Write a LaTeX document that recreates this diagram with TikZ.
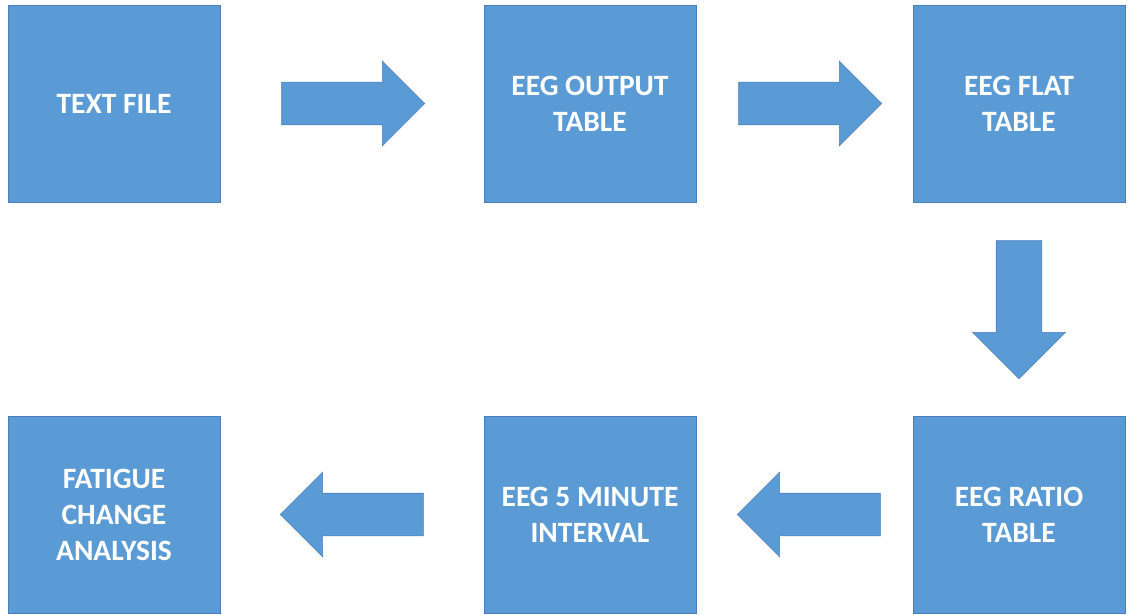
\documentclass[tikz,border=0pt]{standalone}
\usepackage{fontspec}
\setmainfont{Carlito}
\usepackage{tikz}
\usetikzlibrary{shapes.arrows}

\definecolor{boxblue}{HTML}{5B9BD5}
\definecolor{edgeblue}{HTML}{4A7EBB}

\tikzset{
    stage/.style={rectangle, fill=boxblue, draw=edgeblue, line width=0.8pt,
        minimum width=212pt, minimum height=197pt, inner sep=0pt,
        text=white, align=center, font=\fontsize{29.5}{36}\selectfont\bfseries},
    blockarrow/.style={single arrow, fill=boxblue, draw=edgeblue, line width=0.6pt,
        minimum height=143pt, inner xsep=0pt, inner ysep=21pt, anchor=tail,
        single arrow head extend=21pt, single arrow tip angle=90}
}

\begin{document}
\begin{tikzpicture}[x=1pt, y=-1pt]
    \useasboundingbox (0,0) rectangle (1128,615);

    \node [stage] (text_file) at (114, 103.5) {TEXT FILE};
    \node [stage] (eeg_output) at (590, 103.5) {EEG OUTPUT\\TABLE};
    \node [stage] (eeg_flat) at (1019, 103.5) {EEG FLAT\\TABLE};

    \node [stage] (eeg_ratio) at (1019, 514.5) {EEG RATIO\\TABLE};
    \node [stage] (eeg_interval) at (590, 514.5) {EEG 5 MINUTE\\INTERVAL};
    \node [stage] (fatigue) at (114, 514.5) {FATIGUE\\CHANGE\\ANALYSIS};

    \node [blockarrow] (arr_1) at ([shift={(61, 0)}]text_file.east) {};
    \node [blockarrow] (arr_2) at ([shift={(42, 0)}]eeg_output.east) {};
    \node [blockarrow, shape border rotate=270, minimum height=138pt, inner xsep=22.5pt, inner ysep=0pt,
        single arrow head extend=23.5pt] (arr_3) at ([shift={(0, 38)}]eeg_flat.south) {};
    \node [blockarrow, shape border rotate=180] (arr_4) at ([shift={(-32, 0)}]eeg_ratio.west) {};
    \node [blockarrow, shape border rotate=180] (arr_5) at ([shift={(-60, 0)}]eeg_interval.west) {};

\end{tikzpicture}
\end{document}
